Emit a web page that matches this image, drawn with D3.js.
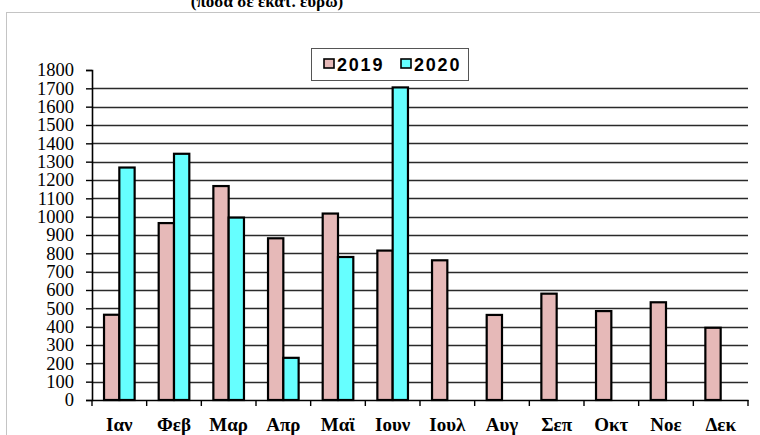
<!DOCTYPE html>
<html>
<head>
<meta charset="utf-8">
<script src="https://cdn.jsdelivr.net/npm/d3@7"></script>
<style>
  html, body { margin: 0; padding: 0; background: #fff; }
  svg { display: block; }
</style>
</head>
<body>
<svg id="chart" width="760" height="435"></svg>
<script>
const months = ["Ιαν", "Φεβ", "Μαρ", "Απρ", "Μαϊ", "Ιουν", "Ιουλ", "Αυγ", "Σεπ", "Οκτ", "Νοε", "Δεκ"];
const seriesNames = ["2019", "2020"];
const values2019 = [465, 965, 1167, 882, 1017, 815, 762, 464, 580, 485, 533, 394];
const values2020 = [1268, 1343, 995, 230, 780, 1705, null, null, null, null, null, null];
const yTicks = [0, 100, 200, 300, 400, 500, 600, 700, 800, 900, 1000, 1100, 1200, 1300, 1400, 1500, 1600, 1700, 1800];
const titleText = "(ποσά σε εκατ. ευρώ)";
const colors = ["#e6b9b8", "#66ffff"];

(function () {
const SERIF = '"Liberation Serif", "Times New Roman", serif';
const SANS = '"Liberation Sans", Arial, sans-serif';
const svg = d3.select("#chart");

// outer frame
svg.append("rect")
  .attr("x", 6.5).attr("y", 12.5).attr("width", 800).attr("height", 500)
  .attr("fill", "none").attr("stroke", "#c4c4c4").attr("stroke-width", 1);

// title (cut at the top, as in the reference)
svg.append("text")
  .attr("x", 267).attr("y", 7)
  .attr("text-anchor", "middle")
  .style("font-family", SERIF)
  .style("font-weight", "bold")
  .style("font-size", "17px")
  .text(titleText);

const pLeft = 92, pRight = 748, pTop = 70, pBottom = 400;

const x0 = d3.scaleBand().domain(months).range([pLeft, pRight])
  .paddingInner(0.44).paddingOuter(0.22);
const x1 = d3.scaleBand().domain(seriesNames).range([0, x0.bandwidth()]);
const y = d3.scaleLinear().domain([0, 1800]).range([pBottom, pTop]);

// gridlines
svg.append("g")
  .selectAll("line")
  .data(yTicks.filter(t => t > 0 && t < 1800))
  .join("line")
  .attr("x1", pLeft).attr("x2", pRight)
  .attr("y1", d => Math.round(y(d)) + 0.5).attr("y2", d => Math.round(y(d)) + 0.5)
  .attr("stroke", "#2a2a2a").attr("stroke-width", 1.6);

// bars
const data = months.map((m, i) => ({ m, vals: [values2019[i], values2020[i]] }));
const groups = svg.append("g").selectAll("g")
  .data(data).join("g")
  .attr("transform", d => `translate(${x0(d.m)},0)`);
groups.selectAll("rect")
  .data(d => d.vals.map((v, k) => ({ v, s: seriesNames[k], k })).filter(e => e.v != null))
  .join("rect")
  .attr("x", e => x1(e.s))
  .attr("width", x1.bandwidth())
  .attr("y", e => y(e.v))
  .attr("height", e => y(0) - y(e.v))
  .attr("fill", e => colors[e.k])
  .attr("stroke", "#000").attr("stroke-width", 2.2);

// y axis
const yAxis = d3.axisLeft(y).tickValues(yTicks).tickSize(6).tickPadding(12).tickFormat(d3.format("d"));
const yg = svg.append("g").attr("transform", `translate(${pLeft},0)`).call(yAxis);
yg.attr("font-family", null).attr("font-size", null);
yg.select(".domain").attr("stroke", "#000").attr("stroke-width", 1.6);
yg.selectAll(".tick line").attr("stroke", "#000").attr("stroke-width", 1.4);
yg.selectAll(".tick text")
  .style("font-family", SERIF)
  .style("font-size", "18.5px")
  .attr("fill", "#000");

// x axis
const xAxis = d3.axisBottom(x0).tickSize(0).tickPadding(18);
const xg = svg.append("g").attr("transform", `translate(0,${pBottom})`).call(xAxis);
xg.attr("font-family", null).attr("font-size", null);
xg.select(".domain").attr("stroke", "#000").attr("stroke-width", 1.6);
xg.selectAll(".tick text")
  .style("font-family", SERIF)
  .style("font-weight", "bold")
  .style("font-size", "19px")
  .attr("fill", "#000");
// boundary ticks between categories
const step = x0.step();
const bounds = d3.range(months.length + 1).map(i => pLeft + i * step);
svg.append("g").selectAll("line").data(bounds).join("line")
  .attr("x1", d => d).attr("x2", d => d)
  .attr("y1", pBottom).attr("y2", pBottom + 6)
  .attr("stroke", "#000").attr("stroke-width", 1.4);

// legend
const lg = svg.append("g");
lg.append("rect")
  .attr("x", 311.5).attr("y", 48.5).attr("width", 157).attr("height", 32)
  .attr("fill", "#fff").attr("stroke", "#555").attr("stroke-width", 1);
const legendX = [324, 401];
seriesNames.forEach((s, k) => {
  lg.append("rect")
    .attr("x", legendX[k]).attr("y", 59).attr("width", 10).attr("height", 9)
    .attr("fill", colors[k]).attr("stroke", "#000").attr("stroke-width", 1.6);
  lg.append("text")
    .attr("x", legendX[k] + 13).attr("y", 70.5)
    .style("font-family", SANS)
    .style("font-weight", "bold")
    .style("font-size", "18px")
    .style("letter-spacing", "1.8px")
    .text(s);
});
})();
</script>
</body>
</html>
